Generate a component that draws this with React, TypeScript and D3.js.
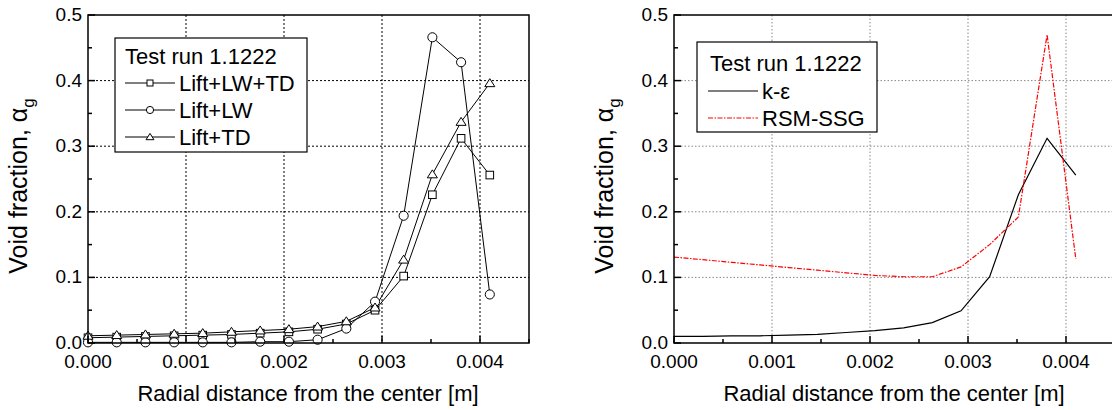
import React from "react";
import * as d3 from "d3";

const radialPos = [0, 0.000293, 0.000586, 0.000879, 0.001171, 0.001464, 0.001757, 0.00205, 0.002343, 0.002636, 0.002929, 0.003221, 0.003514, 0.003807, 0.0041];
const liftLwTd = [0.008, 0.009, 0.010, 0.011, 0.012, 0.013, 0.015, 0.017, 0.021, 0.029, 0.050, 0.102, 0.226, 0.312, 0.256];
const liftLw = [0.001, 0.001, 0.001, 0.001, 0.001, 0.001, 0.002, 0.002, 0.005, 0.022, 0.063, 0.194, 0.466, 0.428, 0.074];
const liftTd = [0.011, 0.012, 0.013, 0.014, 0.015, 0.017, 0.019, 0.021, 0.025, 0.033, 0.054, 0.127, 0.257, 0.337, 0.396];
const kEps = [0.010, 0.010, 0.011, 0.011, 0.012, 0.013, 0.016, 0.019, 0.023, 0.031, 0.049, 0.101, 0.226, 0.312, 0.256];
const rsmSsg = [0.131, 0.127, 0.123, 0.119, 0.115, 0.111, 0.107, 0.103, 0.101, 0.101, 0.116, 0.150, 0.192, 0.470, 0.128];

const xTicks = [0, 0.001, 0.002, 0.003, 0.004];
const xMinor = [0.0005, 0.0015, 0.0025, 0.0035, 0.0045];
const yTicks = [0, 0.1, 0.2, 0.3, 0.4, 0.5];
const yMinor = [0.05, 0.15, 0.25, 0.35, 0.45];
const legendTitle = "Test run 1.1222";
const leftNames = ["Lift+LW+TD", "Lift+LW", "Lift+TD"];
const rightNames = ["k-ε", "RSM-SSG"];

const FONT = "Liberation Sans, Arial, sans-serif";
const TOP = 15;
const BOTTOM = 343;

function Marker({ kind, x, y, s }: { kind: string; x: number; y: number; s: number }) {
  if (kind === "square")
    return <rect x={x - s} y={y - s} width={2 * s} height={2 * s} fill="white" stroke="black" strokeWidth={1} />;
  if (kind === "circle") return <circle cx={x} cy={y} r={s * 1.2} fill="white" stroke="black" strokeWidth={1} />;
  const h = s * 1.2;
  return (
    <path
      d={`M${x},${y - h} L${x + h * 1.1},${y + h * 0.75} L${x - h * 1.1},${y + h * 0.75} Z`}
      fill="white"
      stroke="black"
      strokeWidth={1}
    />
  );
}

function Panel({ left, right, children, gridColor, gridDash, yLabelX }: any) {
  const x = d3.scaleLinear().domain([0, 0.0045]).range([left, right]);
  const y = d3.scaleLinear().domain([0, 0.5]).range([BOTTOM, TOP]);
  const fmtX = d3.format(".3f");
  const fmtY = d3.format(".1f");
  return (
    <g>
      {xTicks.slice(1).map((t) => (
        <line key={"gx" + t} x1={x(t)} x2={x(t)} y1={TOP} y2={BOTTOM} stroke={gridColor} strokeDasharray={gridDash} strokeWidth={1} />
      ))}
      {yTicks.slice(1, 5).map((t) => (
        <line key={"gy" + t} x1={left} x2={right} y1={y(t)} y2={y(t)} stroke={gridColor} strokeDasharray={gridDash} strokeWidth={1} />
      ))}
      {children(x, y)}
      <rect x={left} y={TOP} width={right - left} height={BOTTOM - TOP} fill="none" stroke="black" strokeWidth={1.5} />
      {xTicks.map((t) => (
        <g key={"xt" + t}>
          <line x1={x(t)} x2={x(t)} y1={BOTTOM} y2={BOTTOM - 7} stroke="black" strokeWidth={1.5} />
          <text x={x(t)} y={368} textAnchor="middle" fontSize={19} fontFamily={FONT}>
            {fmtX(t)}
          </text>
        </g>
      ))}
      {xMinor.map((t) => (
        <line key={"xm" + t} x1={x(t)} x2={x(t)} y1={BOTTOM} y2={BOTTOM - 4} stroke="black" strokeWidth={1.5} />
      ))}
      {yTicks.map((t) => (
        <g key={"yt" + t}>
          <line x1={left} x2={left + 7} y1={y(t)} y2={y(t)} stroke="black" strokeWidth={1.5} />
          <text x={left - 6} y={y(t) + 6} textAnchor="end" fontSize={19} fontFamily={FONT}>
            {fmtY(t)}
          </text>
        </g>
      ))}
      {yMinor.map((t) => (
        <line key={"ym" + t} x1={left} x2={left + 4} y1={y(t)} y2={y(t)} stroke="black" strokeWidth={1.5} />
      ))}
      <text x={left + 220} y={401} textAnchor="middle" fontSize={22} fontFamily={FONT}>
        Radial distance from the center [m]
      </text>
      <text transform={`translate(${yLabelX},186) rotate(-90)`} textAnchor="middle" fontSize={25} fontFamily={FONT}>
        Void fraction, α<tspan fontSize={17} dy={7}>g</tspan>
      </text>
    </g>
  );
}

export default function App() {
  const series = [
    { name: leftNames[0], values: liftLwTd, kind: "square" },
    { name: leftNames[1], values: liftLw, kind: "circle" },
    { name: leftNames[2], values: liftTd, kind: "triangle" },
  ];
  return (
    <svg width={1112} height={410} style={{ position: "absolute", left: 0, top: 0, background: "white" }}>
      <rect width={1112} height={410} fill="white" />
      <Panel left={88} right={529} gridColor="black" gridDash="2,2" yLabelX={27}>
        {(x: any, y: any) => {
          const line = d3
            .line<number>()
            .x((_, i) => x(radialPos[i]))
            .y((d) => y(d));
          return (
            <g>
              {series.map((s) => (
                <path key={s.name} d={line(s.values) || ""} fill="none" stroke="black" strokeWidth={1} />
              ))}
              {series.map((s) =>
                s.values.map((v, i) => <Marker key={s.name + i} kind={s.kind} x={x(radialPos[i])} y={y(v)} s={3.8} />)
              )}
              <rect x={115} y={38} width={192} height={114} fill="white" stroke="black" strokeWidth={1.2} />
              <text x={125} y={64} fontSize={22} fontFamily={FONT}>
                {legendTitle}
              </text>
              {series.map((s, i) => {
                const ly = 83 + i * 27;
                return (
                  <g key={"lg" + s.name}>
                    <line x1={125} x2={175} y1={ly} y2={ly} stroke="black" strokeWidth={1} />
                    <Marker kind={s.kind} x={150} y={ly} s={3} />
                    <text x={179} y={ly + 8} fontSize={22} fontFamily={FONT}>
                      {s.name}
                    </text>
                  </g>
                );
              })}
            </g>
          );
        }}
      </Panel>
      <Panel left={674} right={1115} gridColor="#888" gridDash="1.5,2" yLabelX={613}>
        {(x: any, y: any) => {
          const line = d3
            .line<number>()
            .x((_, i) => x(radialPos[i]))
            .y((d) => y(d));
          return (
            <g>
              <path d={line(kEps) || ""} fill="none" stroke="black" strokeWidth={1.2} />
              <path d={line(rsmSsg) || ""} fill="none" stroke="red" strokeWidth={1.2} strokeDasharray="5,1.5,1.5,1.5" />
              <rect x={697} y={42} width={180} height={90} fill="white" stroke="black" strokeWidth={1.2} />
              <text x={710} y={71} fontSize={22} fontFamily={FONT}>
                {legendTitle}
              </text>
              <line x1={708} x2={758} y1={91} y2={91} stroke="black" strokeWidth={1.2} />
              <text x={762} y={99} fontSize={22} fontFamily={FONT}>
                {rightNames[0]}
              </text>
              <line x1={708} x2={758} y1={118} y2={118} stroke="red" strokeWidth={1.2} strokeDasharray="5,1.5,1.5,1.5" />
              <text x={762} y={126} fontSize={22} fontFamily={FONT}>
                {rightNames[1]}
              </text>
            </g>
          );
        }}
      </Panel>
    </svg>
  );
}
